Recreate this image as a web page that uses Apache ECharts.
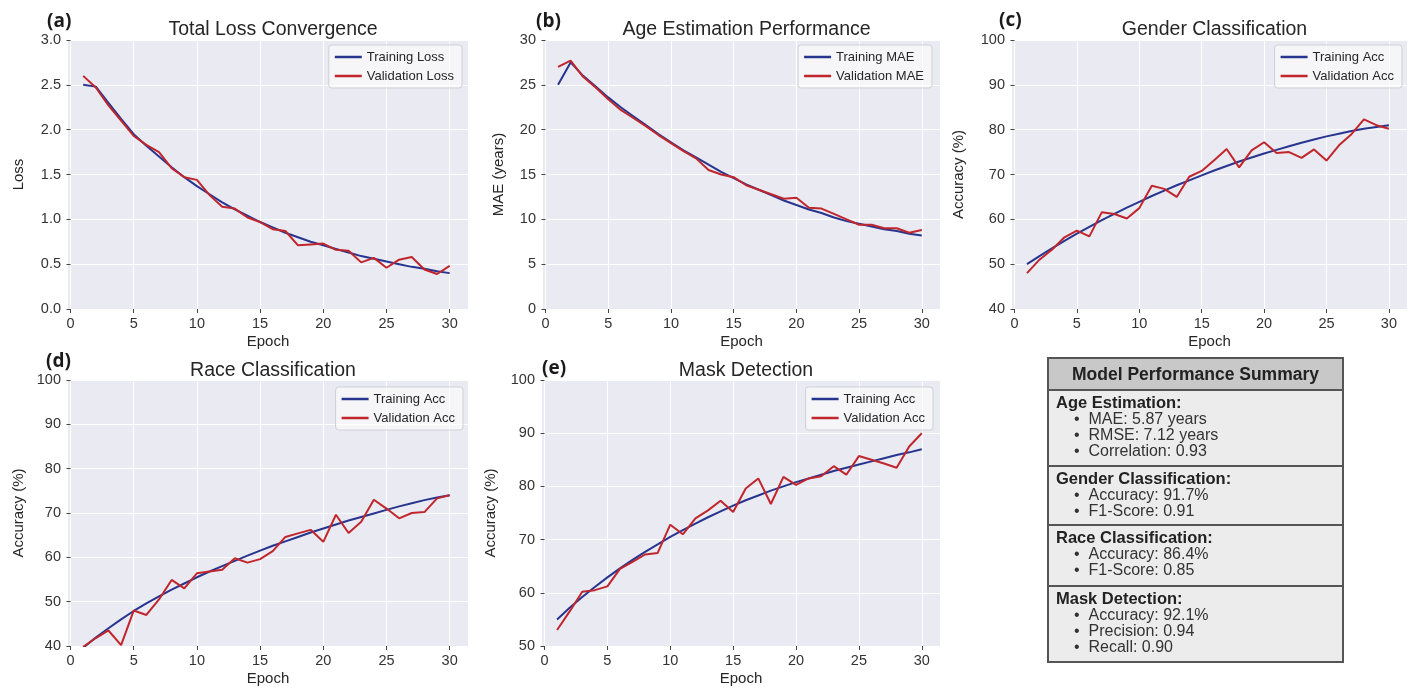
<!DOCTYPE html>
<html><head><meta charset="utf-8">
<script src="https://cdn.jsdelivr.net/npm/echarts@6/dist/echarts.min.js"></script>
<style>html,body{margin:0;padding:0;background:#fff}#c{width:1416px;height:690px}</style>
</head><body><div id="c"></div>
<script>
// ---------- data ----------
const epochs = [1,2,3,4,5,6,7,8,9,10,11,12,13,14,15,16,17,18,19,20,21,22,23,24,25,26,27,28,29,30];
const epochTicks = [0,5,10,15,20,25,30];

const lossTrain = [2.50,2.48,2.30,2.12,1.95,1.82,1.70,1.58,1.47,1.37,1.28,1.19,1.11,1.04,0.97,0.91,0.85,0.80,0.75,0.71,0.67,0.63,0.59,0.56,0.53,0.50,0.47,0.45,0.42,0.40];
const lossVal   = [2.60,2.47,2.27,2.10,1.93,1.83,1.75,1.57,1.47,1.44,1.27,1.14,1.12,1.02,0.97,0.89,0.87,0.71,0.72,0.73,0.66,0.65,0.52,0.57,0.46,0.55,0.58,0.44,0.39,0.48];

const maeTrain = [25.0,27.5,26.0,24.8,23.6,22.5,21.5,20.5,19.5,18.6,17.7,16.9,16.1,15.3,14.6,13.9,13.3,12.7,12.1,11.6,11.1,10.7,10.2,9.8,9.5,9.2,8.9,8.7,8.4,8.2];
const maeVal   = [27.0,27.7,25.9,24.7,23.4,22.2,21.3,20.4,19.4,18.5,17.6,16.8,15.5,15.0,14.7,13.8,13.3,12.8,12.3,12.4,11.3,11.2,10.6,10.0,9.4,9.4,9.0,9.0,8.5,8.8];

const genderTrain = [50.0,51.8,53.5,55.2,56.8,58.3,59.8,61.2,62.6,63.9,65.2,66.4,67.6,68.7,69.8,70.9,71.9,72.9,73.8,74.7,75.5,76.3,77.1,77.8,78.5,79.1,79.7,80.2,80.6,81.0];
const genderVal   = [48.0,51.0,53.2,56.0,57.5,56.2,61.6,61.2,60.2,62.5,67.5,66.8,65.0,69.5,70.8,73.2,75.7,71.6,75.4,77.2,74.8,75.0,73.7,75.6,73.1,76.5,79.0,82.3,81.0,80.2];

const raceTrain = [39.6,41.9,44.0,46.0,47.9,49.6,51.2,52.7,54.1,55.5,56.8,58.0,59.2,60.4,61.5,62.6,63.6,64.6,65.6,66.5,67.4,68.3,69.1,69.9,70.7,71.5,72.2,72.9,73.5,74.0];
const raceVal   = [39.8,41.8,43.5,40.2,48.0,47.0,50.5,54.9,53.0,56.4,56.8,57.2,59.8,58.8,59.6,61.4,64.6,65.4,66.2,63.5,69.6,65.5,68.0,73.0,71.0,68.8,70.0,70.2,73.3,74.0];

const maskTrain = [55.0,57.2,59.2,61.1,62.9,64.6,66.2,67.7,69.1,70.5,71.8,73.0,74.2,75.3,76.4,77.4,78.3,79.2,80.0,80.8,81.5,82.2,82.9,83.5,84.1,84.7,85.3,85.9,86.4,87.0];
const maskVal   = [53.0,56.5,60.2,60.5,61.2,64.5,65.8,67.2,67.5,72.8,71.0,74.0,75.5,77.3,75.2,79.6,81.5,76.7,81.8,80.3,81.5,81.9,83.8,82.2,85.7,85.0,84.3,83.5,87.5,90.0];

const panelTags   = ['(a)','(b)','(c)','(d)','(e)'];
const panelTitles = ['Total Loss Convergence','Age Estimation Performance','Gender Classification','Race Classification','Mask Detection'];
const yNames      = ['Loss','MAE (years)','Accuracy (%)','Accuracy (%)','Accuracy (%)'];
const trainNames  = ['Training Loss','Training MAE','Training Acc','Training Acc','Training Acc'];
const valNames    = ['Validation Loss','Validation MAE','Validation Acc','Validation Acc','Validation Acc'];
const trainSets   = [lossTrain, maeTrain, genderTrain, raceTrain, maskTrain];
const valSets     = [lossVal, maeVal, genderVal, raceVal, maskVal];
const yMin = [0, 0, 40, 40, 50];
const yMax = [3, 30, 100, 100, 100];
const yStep = [0.5, 5, 10, 10, 10];

const summaryTitle = 'Model Performance Summary';
const summarySections = ['Age Estimation:','Gender Classification:','Race Classification:','Mask Detection:'];
const summaryItems = [
  ['MAE: 5.87 years','RMSE: 7.12 years','Correlation: 0.93'],
  ['Accuracy: 91.7%','F1-Score: 0.91'],
  ['Accuracy: 86.4%','F1-Score: 0.85'],
  ['Accuracy: 92.1%','Precision: 0.94','Recall: 0.90']
];

// ---------- layout ----------
const FONT = '"Liberation Sans", Arial, sans-serif';
const TXT = '#262626';
const BLUE = '#27358f';
const RED = '#c0262c';
const layout = [
  {left:68,  top:40,  width:400, height:269, nameGap:42, legRight:954, legTop:45,  tagX:42,  tagY:7,   titleY:15},
  {left:543, top:40,  width:397, height:269, nameGap:37, legRight:484, legTop:45,  tagX:531, tagY:7,   titleY:15},
  {left:1012,top:40,  width:395, height:269, nameGap:46, legRight:14,  legTop:45,  tagX:994, tagY:6,   titleY:15},
  {left:68,  top:380, width:400, height:266, nameGap:42, legRight:953, legTop:387, tagX:41,  tagY:347, titleY:356},
  {left:542, top:380, width:398, height:266, nameGap:44, legRight:483, legTop:387, tagX:537, tagY:354, titleY:356}
];

const grids = [], xAxes = [], yAxes = [], series = [], legends = [], titles = [];
layout.forEach((L, i) => {
  grids.push({left:L.left, top:L.top, width:L.width, height:L.height, show:true, backgroundColor:'#eaeaf2', borderWidth:0});
  xAxes.push({
    type:'value', gridIndex:i, min:-0.2, max:31.45,
    name:'Epoch', nameLocation:'middle', nameGap:25,
    nameTextStyle:{fontFamily:FONT, fontSize:15, color:TXT},
    axisLine:{show:false},
    axisTick:{show:true, length:4, lineStyle:{color:'#444'}, customValues:epochTicks},
    axisLabel:{customValues:epochTicks, fontFamily:FONT, fontSize:14.5, color:'#333', margin:7},
    splitLine:{show:true, lineStyle:{color:'#ffffff', width:1}}
  });
  yAxes.push({
    type:'value', gridIndex:i, min:yMin[i], max:yMax[i], interval:yStep[i],
    name:yNames[i], nameLocation:'middle', nameGap:L.nameGap,
    nameTextStyle:{fontFamily:FONT, fontSize:15, color:TXT},
    axisLine:{show:false},
    axisTick:{show:true, length:4, lineStyle:{color:'#444'}},
    axisLabel:{fontFamily:FONT, fontSize:14.5, color:'#333', margin:7,
      formatter: v => (i === 0 ? v.toFixed(1) : String(v))},
    splitLine:{show:true, lineStyle:{color:'#ffffff', width:1}}
  });
  series.push({
    type:'line', name:trainNames[i], xAxisIndex:i, yAxisIndex:i,
    data: epochs.map((e, k) => [e, trainSets[i][k]]),
    symbol:'none', lineStyle:{color:BLUE, width:2}, itemStyle:{color:BLUE}, z:2, animation:false
  });
  series.push({
    type:'line', name:valNames[i], xAxisIndex:i, yAxisIndex:i,
    data: epochs.map((e, k) => [e, valSets[i][k]]),
    symbol:'none', lineStyle:{color:RED, width:2}, itemStyle:{color:RED}, z:3, animation:false
  });
  legends.push({
    data:[trainNames[i], valNames[i]], orient:'vertical', right:L.legRight, top:L.legTop,
    icon:'rect', itemWidth:27, itemHeight:2.5, itemGap:5, padding:[5,8,5,6],
    backgroundColor:'rgba(255,255,255,0.55)', borderColor:'#cfcfd6', borderWidth:1, borderRadius:3,
    textStyle:{fontFamily:FONT, fontSize:13, color:TXT, lineHeight:14}, selectedMode:false
  });
  titles.push({
    text:panelTitles[i], left:L.left + L.width/2, top:L.titleY, textAlign:'center',
    textStyle:{fontFamily:FONT, fontSize:19.5, fontWeight:'normal', color:TXT}
  });
  titles.push({
    text:panelTags[i], left:L.tagX, top:L.tagY,
    textStyle:{fontFamily:'"Open Sans", ' + FONT, fontSize:19, fontWeight:'bold', color:'#1a1a1a'}
  });
});

// ---------- summary box ----------
const BX = 1048, BY = 358, BW = 295, BH = 304, HH = 32;
const sectionTops = [390, 466, 525, 586];
const graphics = [];
graphics.push({type:'rect', shape:{x:BX, y:BY, width:BW, height:BH}, style:{fill:'#ececec', stroke:'#555', lineWidth:2}, z:10});
graphics.push({type:'rect', shape:{x:BX, y:BY, width:BW, height:HH}, style:{fill:'#c8c8c8', stroke:'#555', lineWidth:2}, z:11});
graphics.push({type:'text', x:BX + BW/2, y:BY + HH/2 + 1, z:12,
  style:{text:summaryTitle, fill:'#222', fontFamily:FONT, fontSize:17.5, fontWeight:'bold', align:'center', verticalAlign:'middle'}});
summarySections.forEach((s, j) => {
  const t = sectionTops[j];
  if (j > 0) graphics.push({type:'line', shape:{x1:BX, y1:t, x2:BX+BW, y2:t}, style:{stroke:'#555', lineWidth:2}, z:12});
  graphics.push({type:'text', x:BX + 8, y:t + 13, z:12,
    style:{text:s, fill:'#222', fontFamily:FONT, fontSize:16.5, fontWeight:'bold', align:'left', verticalAlign:'middle'}});
  summaryItems[j].forEach((it, k) => {
    graphics.push({type:'text', x:BX + 26, y:t + 30 + k*16, z:12,
      style:{text:'\u2022  ' + it, fill:'#333', fontFamily:FONT, fontSize:16, align:'left', verticalAlign:'middle'}});
  });
});

const chart = echarts.init(document.getElementById('c'), null, {renderer:'canvas'});
chart.setOption({
  animation:false,
  backgroundColor:'#ffffff',
  title:titles, grid:grids, xAxis:xAxes, yAxis:yAxes, legend:legends, series:series,
  graphic:graphics
});
</script>
</body></html>
